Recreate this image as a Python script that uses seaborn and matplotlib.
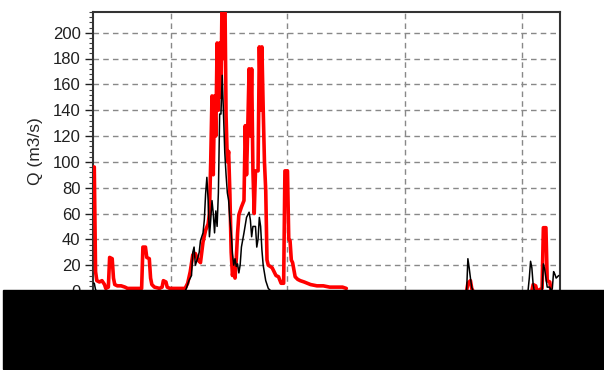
import numpy as np
import pandas as pd
import matplotlib
matplotlib.use("Agg")
import matplotlib.pyplot as plt
from matplotlib.ticker import MultipleLocator, AutoMinorLocator
from matplotlib.patches import Rectangle
import seaborn as sns

# day of the hydrological year (0 = first day) and discharge in m3/s
# red series, split where there is no data
red_days_a = [0, 1, 2, 3, 5, 7, 9, 10, 12, 13, 15, 16, 17, 19, 22, 25, 27, 36, 38, 39, 41, 42,
              44, 45, 46, 48, 52, 54, 55, 57, 58, 60, 72, 74, 76, 78, 80, 82, 84, 86, 88, 90,
              91, 92, 93, 94, 95, 96, 97, 98, 99, 100, 101, 102, 103, 104, 105, 106, 107,
              108, 109, 110, 111, 112, 113, 114, 116, 118, 119, 120, 121, 122, 123, 124, 125,
              126, 127, 129, 130, 131, 132, 133, 134, 135, 136, 137, 140, 143, 145, 147, 149,
              150, 152, 153, 154, 155, 156, 158, 160, 162, 165, 170, 175, 180, 185, 190, 195,
              198]
red_q_a = [96, 96, 15, 8, 7, 8, 5, 2, 3, 26, 25, 10, 5, 4, 4, 3, 2, 2, 2, 34, 34, 26,
           25, 10, 5, 3, 2, 3, 8, 7, 3, 2, 2, 6, 15, 28, 29, 24, 22, 38, 47, 52,
           60, 100, 151, 90, 151, 120, 192, 140, 192, 150, 240, 180, 240, 136, 100, 108, 75,
           30, 12, 20, 10, 25, 45, 59, 65, 70, 128, 90, 128, 172, 120, 172, 93,
           60, 93, 93, 189, 140, 189, 142, 100, 78, 24, 20, 18, 12, 11, 6, 6,
           93, 93, 40, 39, 24, 22, 11, 9, 8, 7, 5, 4, 4, 3, 3, 3,
           2]
red_days_b = [292, 293, 295, 296, 297]
red_q_b = [0, 6, 8, 2, 0]
red_days_c = [343, 344, 346, 347, 351, 352, 354, 355, 357, 358]
red_q_c = [0, 5, 4, 0, 2, 49, 49, 8, 7, 0]

# black series
black_days = [0, 1, 2, 3, 72, 73, 75, 77, 78, 79, 80, 82, 83, 84, 86, 87, 88, 89, 90, 91,
              92, 93, 94, 95, 96, 97, 98, 99, 100, 101, 102, 103, 104, 105, 106, 107, 108,
              109, 110, 111, 112, 113, 114, 115, 116, 118, 120, 122, 123, 124, 125, 127,
              128, 129, 130, 131, 132, 133, 134, 135, 136, 137, 139, 292, 293, 294, 295,
              296, 297, 340, 341, 342, 343, 344, 345, 351, 352, 353, 354, 355, 357, 358,
              359, 360, 361, 362, 363, 364]
black_q = [6, 6, 1, 0, 0, 2, 8, 12, 30, 34, 20, 26, 30, 39, 45, 55, 75, 88, 70, 42,
           55, 70, 60, 45, 62, 50, 76, 137, 137, 167, 137, 107, 90, 76, 70, 55, 45,
           29, 20, 25, 19, 21, 14, 20, 34, 45, 57, 61, 55, 42, 50, 50,
           34, 40, 57, 50, 32, 20, 14, 8, 5, 2, 0, 0, 25, 18, 10,
           3, 0, 0, 10, 23, 18, 5, 0, 0, 21, 17, 10, 3, 3, 0,
           2, 15, 13, 10, 11, 12]

grid_days = [61, 152, 244, 335]

red = pd.concat([
    pd.DataFrame({"day": red_days_a, "Q": red_q_a, "seg": 0}),
    pd.DataFrame({"day": red_days_b, "Q": red_q_b, "seg": 1}),
    pd.DataFrame({"day": red_days_c, "Q": red_q_c, "seg": 2}),
])
black = pd.DataFrame({"day": black_days, "Q": black_q})

sns.set_style("white")
plt.rcParams["font.family"] = ["Liberation Sans", "DejaVu Sans"]

fig = plt.figure(figsize=(6.04, 3.70), dpi=100)
ax = fig.add_axes([93 / 604, 1 - 291 / 370, 467 / 604, 279 / 370])

sns.lineplot(data=red, x="day", y="Q", units="seg", estimator=None, color="#ff0000",
             linewidth=2.6, ax=ax, zorder=3)
sns.lineplot(data=black, x="day", y="Q", estimator=None, color="black",
             linewidth=1.1, ax=ax, zorder=4)

ax.set_xlim(0, 365)
ax.set_ylim(0, 216)
ax.set_xticks(grid_days)
ax.yaxis.set_major_locator(MultipleLocator(20))
ax.yaxis.set_minor_locator(AutoMinorLocator(5))
ax.tick_params(axis="y", which="major", length=6, width=1, direction="out", left=True,
               labelsize=12, colors="#202020", pad=3)
ax.tick_params(axis="y", which="minor", length=3, width=0.8, direction="out", left=True,
               colors="#404040")
ax.grid(True, which="major", color="#888888", linestyle=(0, (4, 3)), linewidth=1)
ax.set_xlabel("")
ax.set_ylabel("Q (m3/s)", fontsize=12.5, labelpad=7)
for s in ax.spines.values():
    s.set_color("#333333")
    s.set_linewidth(1.5)

# black block covering the lower part of the picture
fig.add_artist(Rectangle((3 / 604, 1 / 370), 601 / 604, 79 / 370,
                         transform=fig.transFigure, color="black", zorder=10))

fig.savefig("out.png", dpi=100)
